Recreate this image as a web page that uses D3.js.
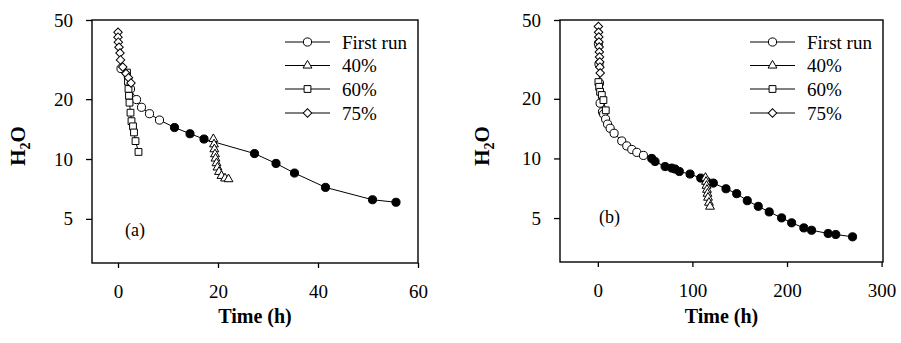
<!DOCTYPE html>
<html>
<head>
<meta charset="utf-8">
<script src="https://cdn.jsdelivr.net/npm/d3@7"></script>
<style>
  html, body { margin: 0; padding: 0; background: #fff; }
  svg text { font-family: "Liberation Serif", "Times New Roman", serif; fill: #000; }
</style>
</head>
<body>
<svg id="chart" width="901" height="343"></svg>
<script>
// ---------------- DATA ----------------
const seriesNames = ["First run", "40%", "60%", "75%"];
const yTickValues = [5, 10, 20, 50];
const xTicksA = [0, 20, 40, 60];
const xTicksB = [0, 100, 200, 300];

// Panel (a)
const firstRunOpenA = [[0.6,28.5],[2.5,22.5],[3.7,19.9],[4.7,18.2],[6.3,16.9],[8.3,15.7]];
const firstRunFilledA = [[11.3,14.4],[14.4,13.4],[17.2,12.6],[27.3,10.65],[31.6,9.5],[35.3,8.5],[41.5,7.2],[50.9,6.24],[55.6,6.06]];
const run40A = [[19.07,12.6],[19.2,11.86],[19.27,11.2],[19.4,10.57],[19.5,10.06],[19.7,9.53],[19.9,9.07],[20.2,8.62],[20.7,8.23],[21.4,7.99],[22.1,7.92]];
const run60A = [[1.8,27.2],[2.0,24.5],[2.1,22.5],[2.2,20.8],[2.3,19.2],[2.5,17.1],[2.7,15.5],[3.0,14.6],[3.2,13.6],[3.5,12.3],[4.1,10.85]];
const run75A = [[0,43.4],[0,41.0],[0.06,38.7],[0.2,36.5],[0.4,34.1],[0.5,31.5],[0.95,29.0],[1.6,26.9],[2.1,25.6],[2.6,24.1]];

// Panel (b)
const firstRunOpenB = [[0.6,38],[1.2,30],[1.8,24],[2.4,19.0],[4.9,17.2],[6.1,16.75],[8.2,15.8],[10.3,14.9],[13.0,14.2],[17.2,13.4],[25.3,12.25],[30.6,11.57],[35.9,11.1],[41.2,10.73],[48.2,10.36]];
const firstRunFilledB = [[57.0,10.0],[60.5,9.65],[71.1,9.1],[78.1,8.94],[81.6,8.84],[86.2,8.59],[97.5,8.34],[108.8,7.96],[115.1,7.65],[122.1,7.51],[135.5,7.03],[146.8,6.64],[158.0,6.12],[169.6,5.73],[181.2,5.37],[194.3,5.01],[204.9,4.73],[217.8,4.46],[226.0,4.34],[243.5,4.18],[251.6,4.13],[269.3,4.02]];
const run40B = [[113.8,7.99],[114.4,7.63],[114.9,7.28],[115.4,6.95],[115.9,6.64],[116.5,6.34],[117.5,5.98],[118.6,5.71]];
const run60B = [[0.6,24.3],[1.4,23.0],[2.4,21.7],[4.2,20.9],[5.9,19.7],[8.4,17.5]];
const run75B = [[0.6,46.4],[0.8,43.4],[1.0,41.0],[1.2,38.7],[1.4,36.5],[1.6,34.5],[1.8,32.5],[2.0,30.7],[2.2,28.9],[2.5,27.0]];

// ---------------- DRAW ----------------
const svg = d3.select("#chart");
const FONT = 19;

const markerDefs = {
  circle:   { type: d3.symbolCircle,   size: 52 },
  triangle: { type: d3.symbolTriangle, size: 34 },
  square:   { type: d3.symbolSquare,   size: 46 },
  diamond:  { type: d3.symbolSquare,   size: 36, rotate: 45 }
};

function drawMarkers(g, pts, x, y, kind, fill) {
  const m = markerDefs[kind];
  const sym = d3.symbol().type(m.type).size(m.size);
  g.selectAll(null).data(pts).enter().append("path")
    .attr("d", sym)
    .attr("transform", d => `translate(${x(d[0])},${y(d[1])})` + (m.rotate ? ` rotate(${m.rotate})` : ""))
    .attr("fill", fill)
    .attr("stroke", "#000")
    .attr("stroke-width", 1);
}

function drawLine(g, pts, x, y) {
  g.append("path").datum(pts)
    .attr("d", d3.line().x(d => x(d[0])).y(d => y(d[1])))
    .attr("fill", "none").attr("stroke", "#000").attr("stroke-width", 1);
}

function panel(cfg) {
  const x = d3.scaleLinear().domain(cfg.xDomain).range([cfg.left, cfg.right]);
  const y = d3.scaleLog().domain([3, 50]).range([cfg.bottom, cfg.top]);
  const g = svg.append("g");

  // frame
  g.append("rect")
    .attr("x", cfg.left).attr("y", cfg.top)
    .attr("width", cfg.right - cfg.left).attr("height", cfg.bottom - cfg.top)
    .attr("fill", "none").attr("stroke", "#000").attr("stroke-width", 1.4);

  // axes
  const ax = g.append("g").attr("transform", `translate(0,${cfg.bottom})`)
    .call(d3.axisBottom(x).tickValues(cfg.xTicks).tickSize(5).tickPadding(17).tickFormat(d3.format("d")));
  const ay = g.append("g").attr("transform", `translate(${cfg.left},0)`)
    .call(d3.axisLeft(y).tickValues(yTickValues).tickSize(6).tickPadding(13).tickFormat(d3.format("d")));
  [ax, ay].forEach(a => {
    a.select(".domain").remove();
    a.selectAll(".tick line").attr("stroke", "#000").attr("stroke-width", 1.3);
    a.selectAll(".tick text").attr("font-size", FONT + "px")
      .attr("font-family", "Liberation Serif").attr("fill", "#000");
  });

  // series: first run (line through open + filled), then 40, 60, 75
  const allFirst = cfg.firstOpen.concat(cfg.firstFilled);
  drawLine(g, allFirst, x, y);
  drawMarkers(g, cfg.firstOpen, x, y, "circle", "#fff");
  drawMarkers(g, cfg.firstFilled, x, y, "circle", "#000");
  drawLine(g, cfg.r40, x, y);
  drawMarkers(g, cfg.r40, x, y, "triangle", "#fff");
  drawLine(g, cfg.r60, x, y);
  drawMarkers(g, cfg.r60, x, y, "square", "#fff");
  drawLine(g, cfg.r75, x, y);
  drawMarkers(g, cfg.r75, x, y, "diamond", "#fff");

  // legend
  const kinds = ["circle", "triangle", "square", "diamond"];
  const rowsY = [42, 65.5, 89, 113];
  seriesNames.forEach((name, i) => {
    const ly = rowsY[i];
    g.append("line").attr("x1", cfg.legX).attr("x2", cfg.legX + 45)
      .attr("y1", ly).attr("y2", ly).attr("stroke", "#000").attr("stroke-width", 1);
    const m = markerDefs[kinds[i]];
    g.append("path").attr("d", d3.symbol().type(m.type).size(m.size))
      .attr("transform", `translate(${cfg.legX + 22.5},${ly})` + (m.rotate ? ` rotate(${m.rotate})` : ""))
      .attr("fill", "#fff").attr("stroke", "#000");
    g.append("text").attr("x", cfg.legX + 57).attr("y", ly + 6.5)
      .attr("font-size", FONT + "px").text(name);
  });

  // panel label
  g.append("text").attr("x", cfg.tagX).attr("y", cfg.tagY)
    .attr("font-size", "18px").text(cfg.tag);

  // axis titles
  g.append("text").attr("x", (cfg.left + cfg.right) / 2).attr("y", 323)
    .attr("text-anchor", "middle").attr("font-size", "20px").attr("font-weight", "bold")
    .text("Time (h)");
  const yt = g.append("text")
    .attr("transform", `translate(${cfg.ytX},146) rotate(-90)`)
    .attr("text-anchor", "middle").attr("font-size", "21px").attr("font-weight", "bold");
  yt.append("tspan").text("H");
  yt.append("tspan").attr("font-size", "14px").attr("dy", 5).text("2");
  yt.append("tspan").attr("dy", -5).text("O");
}

panel({
  left: 92, right: 418, top: 20, bottom: 263,
  xDomain: [-5.2, 60], xTicks: xTicksA,
  firstOpen: firstRunOpenA, firstFilled: firstRunFilledA,
  r40: run40A, r60: run60A, r75: run75A,
  legX: 285, tag: "(a)", tagX: 125, tagY: 236, ytX: 25
});
panel({
  left: 560, right: 883, top: 20, bottom: 262,
  xDomain: [-40, 301.5], xTicks: xTicksB,
  firstOpen: firstRunOpenB, firstFilled: firstRunFilledB,
  r40: run40B, r60: run60B, r75: run75B,
  legX: 750, tag: "(b)", tagX: 599, tagY: 223, ytX: 489
});
</script>
</body>
</html>
